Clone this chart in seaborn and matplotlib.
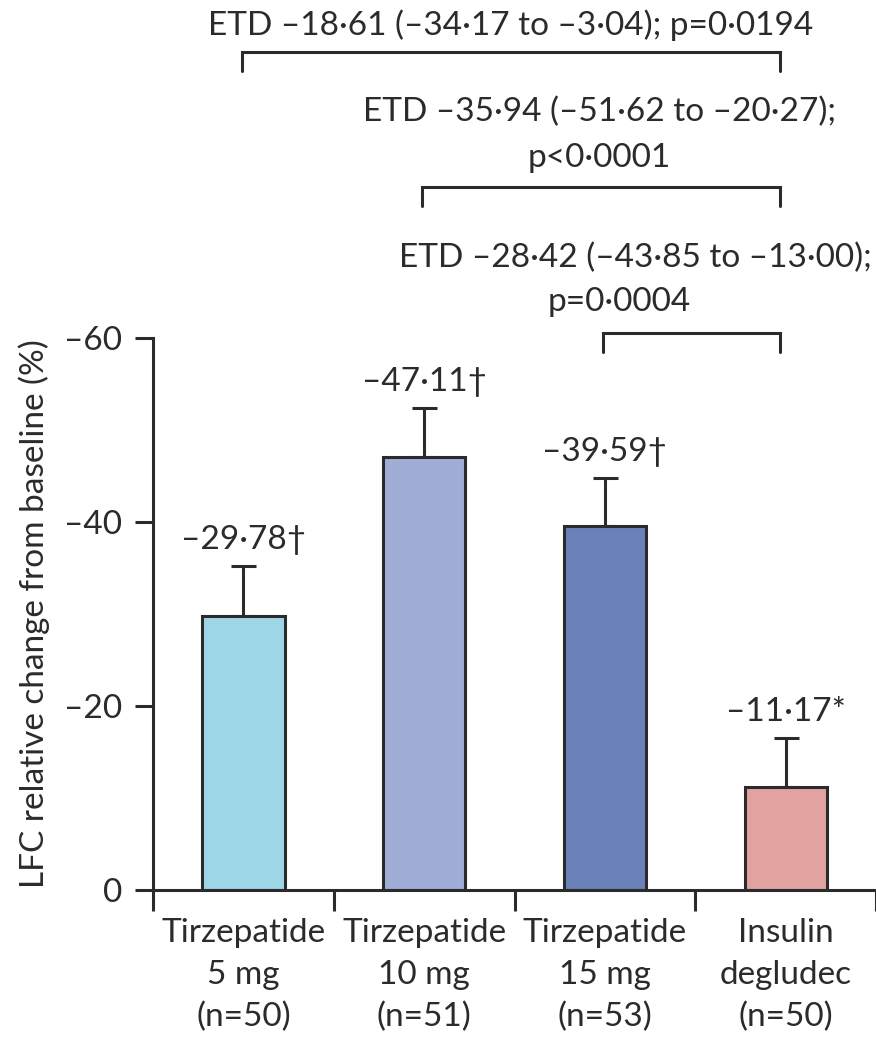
import matplotlib
matplotlib.use("Agg")
import matplotlib.pyplot as plt
import seaborn as sns
import pandas as pd

groups = ["Tirzepatide\n5 mg\n(n=50)", "Tirzepatide\n10 mg\n(n=51)",
          "Tirzepatide\n15 mg\n(n=53)", "Insulin\ndegludec\n(n=50)"]
values = [-29.78, -47.11, -39.59, -11.17]
errors = [5.4, 5.3, 5.2, 5.3]
bar_labels = ["–29·78†", "–47·11†", "–39·59†", "–11·17*"]
colors = ["#9dd6e6", "#a0aed7", "#6a81ba", "#e2a2a0"]
yticks = [0, -20, -40, -60]
ytick_labels = ["0", "–20", "–40", "–60"]
comparisons = [
    (0, 3, ["ETD –18·61 (–34·17 to –3·04); p=0·0194"]),
    (1, 3, ["ETD –35·94 (–51·62 to –20·27);", "p<0·0001"]),
    (2, 3, ["ETD –28·42 (–43·85 to –13·00);", "p=0·0004"]),
]

df = pd.DataFrame({"group": groups, "value": values})

sns.set_style("ticks")
plt.rcParams["font.family"] = ["Lato", "DejaVu Sans"]
fs = 24
plt.rcParams["font.size"] = fs
ink = "#2b2b2b"

fig = plt.figure(figsize=(8.76, 10.4), dpi=100)
ax = fig.add_axes([0.1747, 0.1442, 0.8253, 0.5308])

sns.barplot(data=df, x="group", y="value", hue="group", palette=colors,
            legend=False, width=0.455, edgecolor=ink, linewidth=2.2,
            saturation=1, ax=ax)
ax.errorbar(range(len(values)), values, yerr=[errors, [0] * len(errors)],
            fmt="none", ecolor=ink, elinewidth=2.2, capsize=9, capthick=2.2,
            zorder=1)
# bars above error bar stems
for p in ax.patches:
    p.set_zorder(2)

for i, (v, e, lab) in enumerate(zip(values, errors, bar_labels)):
    ax.annotate(lab, (i, v - e), xytext=(0, 8), textcoords="offset points",
                ha="center", va="bottom", fontsize=fs, color=ink)

ax.set_ylim(0, -60)
ax.set_xlim(-0.5, 3.5)
ax.set_yticks(yticks)
ax.set_yticklabels(ytick_labels)
ax.set_xlabel("")
ax.set_ylabel("LFC relative change from baseline (%)", fontsize=fs, color=ink,
              labelpad=10)
ax.set_xticks(range(len(groups)))
ax.set_xticklabels(groups, linespacing=1.5)
ax.set_xticks([-0.5, 0.5, 1.5, 2.5, 3.5], minor=True)
ax.tick_params(axis="x", which="major", length=0, pad=20, labelsize=fs,
               colors=ink)
ax.tick_params(axis="x", which="minor", length=15, width=2.2, color=ink,
               direction="out")
ax.tick_params(axis="y", length=13, width=2.2, color=ink, labelsize=fs,
               labelcolor=ink, pad=9)
for s in ["top", "right"]:
    ax.spines[s].set_visible(False)
for s in ["left", "bottom"]:
    ax.spines[s].set_linewidth(2.2)
    ax.spines[s].set_color(ink)

# comparison brackets above the axes
tr = ax.get_xaxis_transform()
bracket_y = [1.518, 1.274, 1.009]
leg = 0.034
text_pos = [[(1.478, 1.567)], [(1.97, 1.409), (1.97, 1.326)],
            [(2.17, 1.145), (2.08, 1.065)]]
for (a, b, lines), y, tp in zip(comparisons, bracket_y, text_pos):
    xa, xb = a - 0.01, b - 0.03
    ax.plot([xa, xa, xb, xb], [y - leg, y, y, y - leg], color=ink, lw=2.2,
            transform=tr, clip_on=False, solid_joinstyle="miter")
    for line, (tx, ty) in zip(lines, tp):
        ax.text(tx, ty, line, transform=tr, ha="center", va="center",
                fontsize=fs, color=ink)

fig.savefig("out.png", dpi=100)
